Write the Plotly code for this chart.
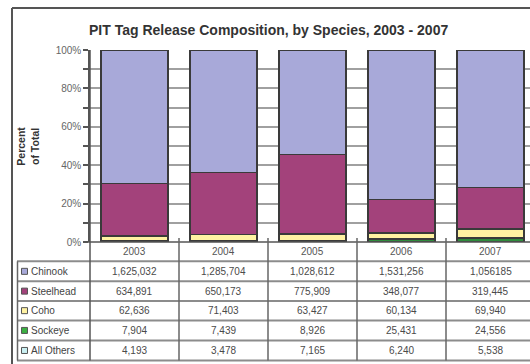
import plotly.graph_objects as go

# ---------------- data ----------------
years = ["2003", "2004", "2005", "2006", "2007"]
species = ["Chinook", "Steelhead", "Coho", "Sockeye", "All Others"]
chinook = [1625032, 1285704, 1028612, 1531256, 1056185]
steelhead = [634891, 650173, 775909, 348077, 319445]
coho = [62636, 71403, 63427, 60134, 69940]
sockeye = [7904, 7439, 8926, 25431, 24556]
all_others = [4193, 3478, 7165, 6240, 5538]
# table text exactly as printed in the source table
chinook_txt = ["1,625,032", "1,285,704", "1,028,612", "1,531,256", "1,056185"]
steelhead_txt = [f"{v:,}" for v in steelhead]
coho_txt = [f"{v:,}" for v in coho]
sockeye_txt = [f"{v:,}" for v in sockeye]
others_txt = [f"{v:,}" for v in all_others]
y_ticks = [0, 0.1, 0.2, 0.3, 0.4, 0.5, 0.6, 0.7, 0.8, 0.9, 1.0]
y_ticktext = ["0%", "", "20%", "", "40%", "", "60%", "", "80%", "", "100%"]

colors = {
    "Chinook": "#a8a9d9",
    "Steelhead": "#a3427b",
    "Coho": "#fff2a2",
    "Sockeye": "#2f8c3c",
    "All Others": "#c9eff1",
}
legend_colors = {
    "Chinook": "#a8a9d9",
    "Steelhead": "#a3427b",
    "Coho": "#fff2a2",
    "Sockeye": "#3cb043",
    "All Others": "#c9eff1",
}

# ---------------- layout geometry (pixels) ----------------
W, H = 530, 364
L, R, T, B = 90, 530, 50, 241.7
CAT_W = 89.0
xmin = -0.5
xmax = xmin + (R - L) / CAT_W


def px(x):
    return (x - L) / (R - L)


def py(y):
    return (B - y) / (B - T)


def xcat(v):
    return (v - xmin) / (xmax - xmin)


FONT = "Liberation Sans, Arial, sans-serif"

fig = go.Figure()
series = [
    ("All Others", all_others),
    ("Sockeye", sockeye),
    ("Coho", coho),
    ("Steelhead", steelhead),
    ("Chinook", chinook),
]
for name, vals in series:
    fig.add_trace(go.Bar(
        x=list(range(len(years))), y=vals, name=name,
        marker=dict(color=colors[name], line=dict(color="#3a3a3a", width=1.3)),
        width=0.755, showlegend=False, hoverinfo="skip",
    ))

shapes = []
annotations = []

# table rows (pixel boundaries)
row_bounds = [B, 261, 281, 300.5, 320, 340, 360]
row_texts = [chinook_txt, steelhead_txt, coho_txt, sockeye_txt, others_txt]

# horizontal lines
for yb in row_bounds[1:]:
    shapes.append(dict(type="line", xref="paper", yref="paper",
                       x0=px(17), x1=1.0, y0=py(yb), y1=py(yb),
                       line=dict(color="#8c8c8c", width=2)))
shapes.append(dict(type="line", xref="paper", yref="paper",
                   x0=px(85), x1=1.0, y0=py(B), y1=py(B),
                   line=dict(color="#555555", width=1.5)))
# vertical lines
shapes.append(dict(type="line", xref="paper", yref="paper",
                   x0=px(17.5), x1=px(17.5), y0=py(261), y1=py(360),
                   line=dict(color="#666666", width=1.5)))
shapes.append(dict(type="line", xref="paper", yref="paper",
                   x0=0, x1=0, y0=1, y1=py(360),
                   line=dict(color="#555555", width=1.5)))
for i in range(len(years) - 1):
    xb = xcat(i + 0.5)
    shapes.append(dict(type="line", xref="paper", yref="paper",
                       x0=xb, x1=xb, y0=py(B - 4), y1=py(360),
                       line=dict(color="#666666", width=1.5)))

# outer frame
shapes.append(dict(type="line", xref="paper", yref="paper",
                   x0=px(12), x1=px(12), y0=py(8), y1=py(364),
                   line=dict(color="#555555", width=2)))
shapes.append(dict(type="line", xref="paper", yref="paper",
                   x0=px(12), x1=1.0, y0=py(8), y1=py(8),
                   line=dict(color="#555555", width=2)))

# header row (years)
for i, yr in enumerate(years):
    annotations.append(dict(x=i, xref="x", y=py((row_bounds[0] + row_bounds[1]) / 2),
                            yref="paper", text=yr, showarrow=False,
                            xanchor="center", yanchor="middle",
                            font=dict(family=FONT, size=10, color="#555555")))

# body rows
for r, name in enumerate(species):
    yc_px = (row_bounds[r + 1] + row_bounds[r + 2]) / 2
    yc = py(yc_px)
    for i in range(len(years)):
        annotations.append(dict(x=i, xref="x", y=yc, yref="paper",
                                text=row_texts[r][i], showarrow=False,
                                xanchor="center", yanchor="middle",
                                font=dict(family=FONT, size=10, color="#4a4a4a")))
    shapes.append(dict(type="rect", xref="paper", yref="paper",
                       x0=px(21.5), x1=px(27.5), y0=py(yc_px - 3), y1=py(yc_px + 3),
                       fillcolor=legend_colors[name],
                       line=dict(color="#555555", width=1)))
    annotations.append(dict(x=px(29), xref="paper", y=yc, yref="paper",
                            xanchor="left", yanchor="middle", text=name, showarrow=False,
                            font=dict(family=FONT, size=10, color="#444444")))

# title
annotations.append(dict(x=px(268), xref="paper", y=py(30), yref="paper",
                        xanchor="center", yanchor="middle",
                        text="<b>PIT Tag Release Composition, by Species, 2003 - 2007</b>",
                        showarrow=False,
                        font=dict(family=FONT, size=14, color="#333333")))
# y-axis title
annotations.append(dict(x=px(28.5), xref="paper", y=py(146), yref="paper",
                        xanchor="center", yanchor="middle",
                        text="<b>Percent<br>of Total</b>", textangle=-90,
                        showarrow=False,
                        font=dict(family=FONT, size=10.5, color="#333333")))

fig.update_layout(
    width=W, height=H,
    margin=dict(l=L, r=W - R, t=T, b=H - B, pad=0),
    barmode="stack", barnorm="fraction",
    paper_bgcolor="white", plot_bgcolor="white",
    shapes=shapes, annotations=annotations,
    xaxis=dict(range=[xmin, xmax], showticklabels=False, showgrid=False,
               zeroline=False, showline=False, ticks=""),
    yaxis=dict(range=[0, 1], tickvals=y_ticks, ticktext=y_ticktext,
               showgrid=True, gridcolor="#a0a0a0", gridwidth=2,
               zeroline=False, showline=True, linecolor="#555555", linewidth=1.5,
               ticks="outside", ticklen=5, tickcolor="#555555", tickwidth=1.5,
               tickfont=dict(family=FONT, size=10, color="#666666")),
    showlegend=False,
)

fig.write_html("out.html")
